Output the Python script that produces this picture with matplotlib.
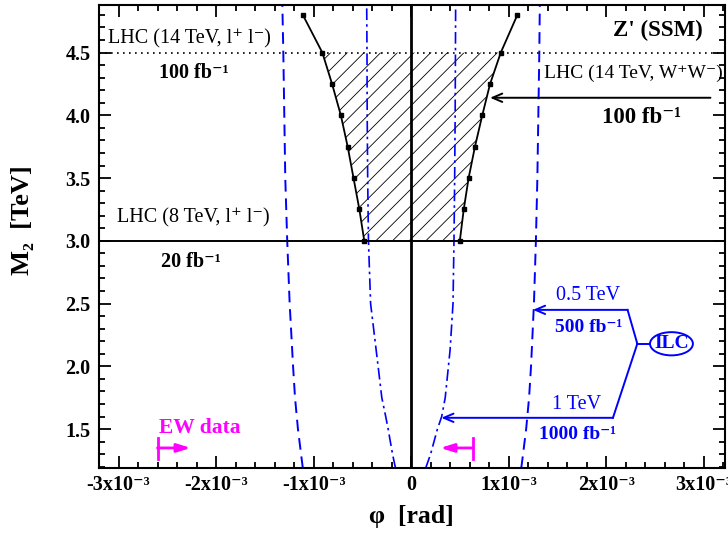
import numpy as np
import matplotlib
matplotlib.use("Agg")
import matplotlib.pyplot as plt
from matplotlib.patches import Ellipse
from matplotlib.ticker import MultipleLocator

plt.rcParams['font.family'] = ['Liberation Serif', 'DejaVu Serif']
plt.rcParams['hatch.linewidth'] = 0.6

# LHC (14 TeV, W+W-) limits, phi in units of 1e-3
m_lhc = [3.0, 3.25, 3.5, 3.75, 4.0, 4.25, 4.5, 4.8]
phi_lhc_left = [-0.48, -0.53, -0.59, -0.65, -0.72, -0.81, -0.91, -1.11]
phi_lhc_right = [0.50, 0.54, 0.59, 0.655, 0.73, 0.81, 0.92, 1.09]

# ILC 0.5 TeV, 500 fb^-1 (dashed)
m_ilc05 = [1.19, 1.25, 1.5, 1.75, 2.0, 2.5, 3.0, 3.5, 4.0, 4.5, 4.88]
phi_ilc05_left = [-1.11, -1.12, -1.16, -1.19, -1.21, -1.245, -1.27, -1.29, -1.30, -1.31, -1.32]
phi_ilc05_right = [1.13, 1.14, 1.18, 1.21, 1.23, 1.26, 1.28, 1.295, 1.305, 1.315, 1.32]

# ILC 1 TeV, 1000 fb^-1 (dash-dot)
m_ilc1 = [1.19, 1.3, 1.5, 1.6, 1.75, 2.0, 2.13, 2.5, 3.0, 3.5, 4.0, 4.5, 4.88]
phi_ilc1_left = [-0.16, -0.19, -0.235, -0.26, -0.30, -0.338, -0.358, -0.415, -0.437, -0.445, -0.45, -0.452, -0.455]
phi_ilc1_right = [0.15, 0.20, 0.27, 0.314, 0.35, 0.383, 0.40, 0.43, 0.44, 0.447, 0.452, 0.455, 0.457]

# LHC Drell-Yan mass limits
m_lhc8 = 3.0
m_lhc14 = 4.5

# EW data bounds
phi_ew = [-2.60, 0.635]
m_ew = 1.35

xticks = [-3, -2, -1, 0, 1, 2, 3]
xticklabels = ['-3x10⁻³', '-2x10⁻³', '-1x10⁻³', '0',
               '1x10⁻³', '2x10⁻³', '3x10⁻³']
yticks = [1.5, 2.0, 2.5, 3.0, 3.5, 4.0, 4.5]

s = 1e-3
fig = plt.figure(figsize=(7.28, 5.42), dpi=100)
ax = fig.add_axes([0.136, 0.1365, 0.86, 0.8545])
ax.set_xlim(-3.2e-3, 3.22e-3)
ax.set_ylim(1.19, 4.88)

blue = '#0000ff'
mag = '#ff00ff'

# hatched region
n = m_lhc.index(m_lhc14) + 1
hx = [p * s for p in phi_lhc_left[:n]] + [p * s for p in phi_lhc_right[:n]][::-1]
hy = m_lhc[:n] + m_lhc[:n][::-1]
ax.fill(hx, hy, facecolor='none', edgecolor='black', hatch='//', linewidth=0)

ax.plot([p * s for p in phi_lhc_left], m_lhc, color='black', lw=1.3,
        marker='s', ms=3)
ax.plot([p * s for p in phi_lhc_right], m_lhc, color='black', lw=1.3,
        marker='s', ms=3)

ax.plot([p * s for p in phi_ilc05_left], m_ilc05, color=blue, lw=1.4,
        dashes=(6, 3.5))
ax.plot([p * s for p in phi_ilc05_right], m_ilc05, color=blue, lw=1.4,
        dashes=(6, 3.5))
ax.plot([p * s for p in phi_ilc1_left], m_ilc1, color=blue, lw=1.2,
        dashes=(7, 2.5, 1.5, 2.5))
ax.plot([p * s for p in phi_ilc1_right], m_ilc1, color=blue, lw=1.2,
        dashes=(7, 2.5, 1.5, 2.5))

ax.axhline(m_lhc8, color='black', lw=1.4)
ax.axhline(m_lhc14, color='black', lw=1.2, dashes=(1.0, 2.6))
ax.axvline(0, color='black', lw=2)

# ticks
ax.set_xticks([t * s for t in xticks])
ax.set_xticklabels(xticklabels)
ax.set_yticks(yticks)
ax.set_yticklabels(['%.1f' % v for v in yticks])
ax.xaxis.set_minor_locator(MultipleLocator(0.2e-3))
ax.yaxis.set_minor_locator(MultipleLocator(0.1))
ax.tick_params(which='both', direction='in', top=True, right=True, width=1.3)
ax.tick_params(which='major', length=8.5, labelsize=14.5)
ax.tick_params(axis='x', which='major', pad=5)
ax.tick_params(axis='y', which='major', pad=6)
ax.tick_params(which='minor', length=4.5)
for lab in ax.get_xticklabels() + ax.get_yticklabels():
    lab.set_fontweight('bold')
for sp in ax.spines.values():
    sp.set_linewidth(1.5)

fig.text(411 / 728, 1 - 517 / 542, 'φ  [rad]', fontsize=18.5, fontweight='bold',
         ha='center', va='center')
fig.text(22 / 728, 1 - 220 / 542, 'M₂  [TeV]', fontsize=19, fontweight='bold',
         ha='center', va='center', rotation=90)

# LHC texts
ax.text(-3.11e-3, 4.57, 'LHC (14 TeV, l⁺ l⁻)', fontsize=14.5)
ax.text(-2.23e-3, 4.30, '100 fb⁻¹', fontsize=14.5, fontweight='bold', ha='center')
ax.text(-3.02e-3, 3.15, 'LHC (8 TeV, l⁺ l⁻)', fontsize=14.5)
ax.text(-2.26e-3, 2.79, '20 fb⁻¹', fontsize=14.5, fontweight='bold', ha='center')
ax.text(2.99e-3, 4.63, "Z' (SSM)", fontsize=16.5, fontweight='bold', ha='right')
ax.text(1.36e-3, 4.30, 'LHC (14 TeV, W⁺W⁻)', fontsize=14)
ax.text(2.36e-3, 3.94, '100 fb⁻¹', fontsize=16.5, fontweight='bold', ha='center')
ax.annotate('', xy=(0.81e-3, 4.14), xytext=(3.07e-3, 4.14),
            arrowprops=dict(arrowstyle='->,head_length=0.7,head_width=0.3',
                            color='black', lw=1.4, shrinkA=0, shrinkB=0))

# ILC annotations
ax.text(1.82e-3, 2.53, '0.5 TeV', fontsize=14.5, color=blue, ha='center')
ax.text(1.82e-3, 2.27, '500 fb⁻¹', fontsize=14, color=blue,
        fontweight='bold', ha='center')
ax.text(1.70e-3, 1.66, '1 TeV', fontsize=14.5, color=blue, ha='center')
ax.text(1.71e-3, 1.42, '1000 fb⁻¹', fontsize=14, color=blue,
        fontweight='bold', ha='center')
ax.annotate('', xy=(1.25e-3, 2.45), xytext=(2.22e-3, 2.45),
            arrowprops=dict(arrowstyle='->,head_length=0.7,head_width=0.3',
                            color=blue, lw=1.4, shrinkA=0, shrinkB=0))
ax.annotate('', xy=(0.31e-3, 1.59), xytext=(2.07e-3, 1.59),
            arrowprops=dict(arrowstyle='->,head_length=0.7,head_width=0.3',
                            color=blue, lw=1.4, shrinkA=0, shrinkB=0))
ax.plot([2.22e-3, 2.32e-3, 2.07e-3], [2.45, 2.18, 1.59], color=blue, lw=1.4)
ax.plot([2.32e-3, 2.45e-3], [2.18, 2.18], color=blue, lw=1.4)
ax.add_patch(Ellipse((2.67e-3, 2.18), 0.44e-3, 0.185, facecolor='white',
                     edgecolor=blue, lw=1.4))
ax.text(2.67e-3, 2.18, 'ILC', fontsize=14, color=blue, fontweight='bold',
        ha='center', va='center')

# EW data
ax.text(-2.58e-3, 1.47, 'EW data', fontsize=15.5, color=mag, fontweight='bold')
ax.plot([phi_ew[0] * s] * 2, [1.26, 1.43], color=mag, lw=2)
ax.plot([phi_ew[1] * s] * 2, [1.26, 1.43], color=mag, lw=2)
ax.annotate('', xy=(-2.26e-3, m_ew), xytext=(phi_ew[0] * s, m_ew),
            arrowprops=dict(arrowstyle='-|>,head_length=0.8,head_width=0.25',
                            color=mag, lw=2, shrinkA=0, shrinkB=0))
ax.annotate('', xy=(0.30e-3, m_ew), xytext=(phi_ew[1] * s, m_ew),
            arrowprops=dict(arrowstyle='-|>,head_length=0.8,head_width=0.25',
                            color=mag, lw=2, shrinkA=0, shrinkB=0))

fig.savefig('out.png', dpi=100)
